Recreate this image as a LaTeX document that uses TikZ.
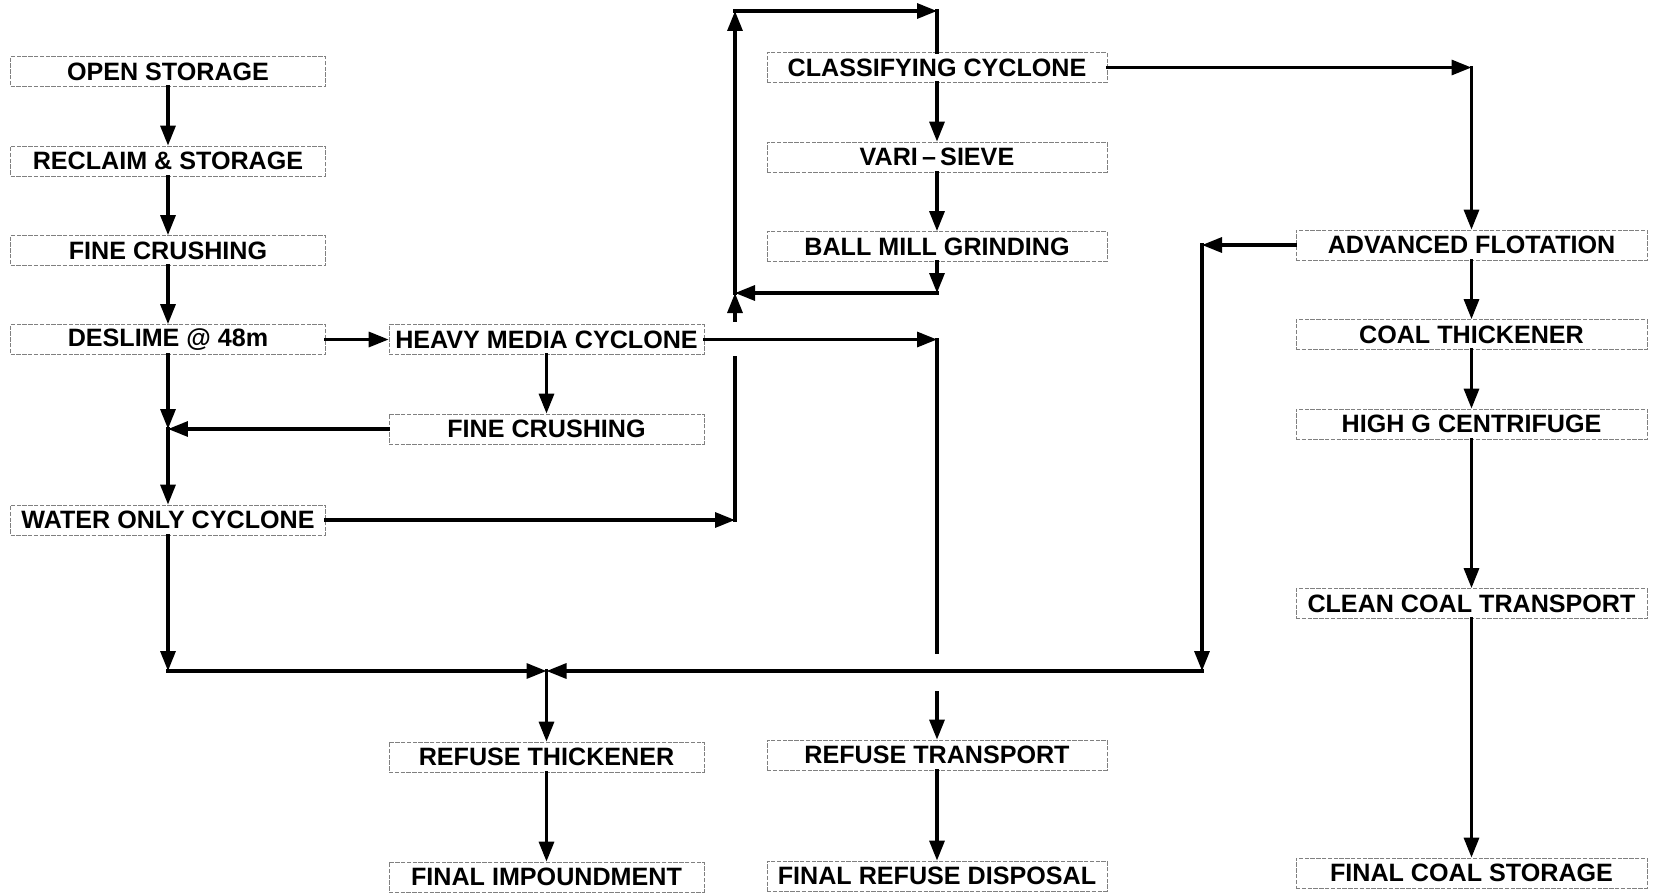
\documentclass[tikz,border=0pt]{standalone}
\usepackage{fontspec}
\setmainfont{Liberation Sans}
\usetikzlibrary{arrows.meta}

\tikzset{
  StepBox/.style={draw=black!50, line width=0.45pt, dash pattern=on 2.5pt off 0.8pt,
    minimum height=0.6cm, inner sep=0pt, font=\fontsize{14.3}{16}\selectfont\bfseries},
  ColA/.style={StepBox, minimum width=6.3cm},
  ColB/.style={StepBox, minimum width=6.3cm},
  ColC/.style={StepBox, minimum width=6.8cm},
  ColD/.style={StepBox, minimum width=7.02cm},
  Line/.style={line width=0.065cm, line cap=rect},
  Flow/.style={Line, -{Triangle[length=0.4cm,width=0.3cm]}}
}

\begin{document}
\begin{tikzpicture}[x=0.02cm,y=-0.02cm]
\useasboundingbox (0,0) rectangle (1658,893);

\node[ColA] (OpenStorage) at (168,71.5) {OPEN STORAGE};
\node[ColA] (Reclaim) at (168,161) {RECLAIM \& STORAGE};
\node[ColA] (FineCrushA) at (168,250.5) {FINE CRUSHING};
\node[ColA] (Deslime) at (168,339.5) {DESLIME @ 48m};
\node[ColA] (WaterOnly) at (168,520) {WATER ONLY CYCLONE};

\node[ColB] (HeavyMedia) at (546.5,339.5) {HEAVY MEDIA CYCLONE};
\node[ColB] (FineCrushB) at (546.5,429) {FINE CRUSHING};
\node[ColB] (RefuseThick) at (546.5,757) {REFUSE THICKENER};
\node[ColB] (FinalImpound) at (546.5,877) {FINAL IMPOUNDMENT};

\node[ColC] (Classify) at (937,67.5) {CLASSIFYING CYCLONE};
\node[ColC] (VariSieve) at (937,157) {VARI\,--\,SIEVE};
\node[ColC] (BallMill) at (937,246.5) {BALL MILL GRINDING};
\node[ColC] (RefuseTrans) at (937,755) {REFUSE TRANSPORT};
\node[ColC] (FinalRefuse) at (937,876) {FINAL REFUSE DISPOSAL};

\node[ColD] (AdvFlot) at (1471.5,245) {ADVANCED FLOTATION};
\node[ColD] (CoalThick) at (1471.5,334.5) {COAL THICKENER};
\node[ColD] (HighG) at (1471.5,424) {HIGH G CENTRIFUGE};
\node[ColD] (CleanCoal) at (1471.5,603.5) {CLEAN COAL TRANSPORT};
\node[ColD] (FinalCoal) at (1471.5,873) {FINAL COAL STORAGE};

\coordinate (jA) at (168,429);
\coordinate (cW) at (735,520);
\coordinate (gapB1) at (735,358);
\coordinate (gapB2) at (735,320);
\coordinate (jB) at (735,293);
\coordinate (cT) at (735,11);
\coordinate (cTR) at (937,11);
\coordinate (cBM) at (937,293);
\coordinate (cHM) at (937,339.5);
\coordinate (gapA1) at (937,652);
\coordinate (gapA2) at (937,693);
\coordinate (cCL) at (1471.5,67.5);
\coordinate (cAF) at (1202,245);
\coordinate (cAFb) at (1202,671);
\coordinate (cWb) at (168,671);
\coordinate (jC) at (546.5,671);

\draw[Flow] (OpenStorage) -- (Reclaim);
\draw[Flow] (Reclaim) -- (FineCrushA);
\draw[Flow] (FineCrushA) -- (Deslime);
\draw[Flow] (Deslime) -- (jA);
\draw[Flow] (jA) -- (WaterOnly);
\draw[Flow] (Deslime) -- (HeavyMedia);
\draw[Flow] (HeavyMedia) -- (FineCrushB);
\draw[Flow] (FineCrushB) -- (jA);

\draw[Flow] (WaterOnly) -- (cW);
\draw[Line] (cW) -- (gapB1);
\draw[Flow] (gapB2) -- (jB);
\draw[Flow] (jB) -- (cT);
\draw[Flow] (cT) -- (cTR);
\draw[Line] (cTR) -- (Classify);
\draw[Flow] (Classify) -- (VariSieve);
\draw[Flow] (VariSieve) -- (BallMill);
\draw[Flow] (BallMill) -- (cBM);
\draw[Flow] (cBM) -- (jB);

\draw[Flow] (HeavyMedia) -- (cHM);
\draw[Line] (cHM) -- (gapA1);
\draw[Flow] (gapA2) -- (RefuseTrans);
\draw[Flow] (RefuseTrans) -- (FinalRefuse);

\draw[Flow] (WaterOnly) -- (cWb);
\draw[Flow] (cWb) -- (jC);
\draw[Flow] (AdvFlot) -- (cAF);
\draw[Flow] (cAF) -- (cAFb);
\draw[Flow] (cAFb) -- (jC);
\draw[Flow] (jC) -- (RefuseThick);
\draw[Flow] (RefuseThick) -- (FinalImpound);

\draw[Flow] (Classify) -- (cCL);
\draw[Flow] (cCL) -- (AdvFlot);
\draw[Flow] (AdvFlot) -- (CoalThick);
\draw[Flow] (CoalThick) -- (HighG);
\draw[Flow] (HighG) -- (CleanCoal);
\draw[Flow] (CleanCoal) -- (FinalCoal);

\end{tikzpicture}
\end{document}
